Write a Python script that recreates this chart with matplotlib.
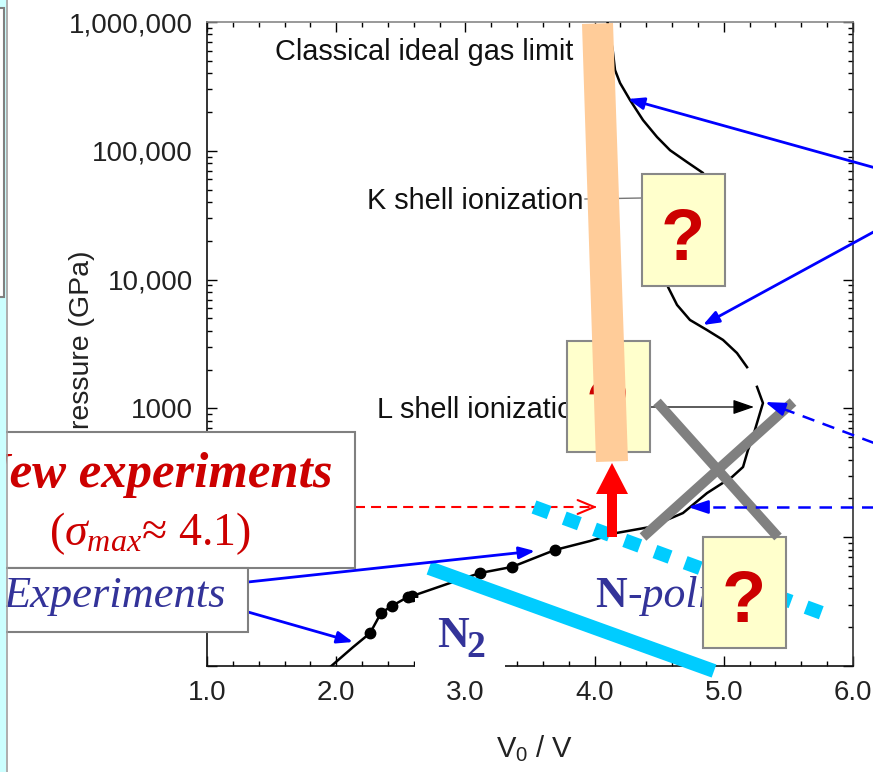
import matplotlib
matplotlib.use('Agg')
import matplotlib.pyplot as plt
from matplotlib import transforms as mtransforms
from matplotlib.patches import Rectangle, Polygon, FancyArrowPatch
from matplotlib.lines import Line2D
from matplotlib.ticker import FixedLocator, FixedFormatter, MultipleLocator, LogLocator, NullFormatter

W, H = 873, 772

plt.rcParams['font.family'] = ['Liberation Sans', 'DejaVu Sans']
plt.rcParams['mathtext.fontset'] = 'custom'
plt.rcParams['mathtext.rm'] = 'Liberation Serif'
plt.rcParams['mathtext.it'] = 'Liberation Serif:italic'
plt.rcParams['mathtext.bf'] = 'Liberation Serif:bold'

# ---------------- data ----------------
# Hugoniot curve: compression V0/V vs pressure (GPa); None = gap in the drawn curve
hug_v = [1.952, 2.130, 2.262, 2.347, 2.432, 2.556, 2.587, 2.881, 3.113, 3.361, 3.693,
         3.964, 4.173, 4.429, 4.684, 4.870, 5.063, 5.149, 5.187, 5.218, 5.257, 5.303,
         5.257, None, 5.180, 5.102, 4.994, 4.870, 4.738, 4.638, 4.568, 4.660, 4.816,
         4.930, 4.839, 4.715, 4.584, 4.483, 4.375, 4.274, 4.197, 4.158, 4.140, 4.100]
hug_p = [9.8, 14.0, 18.0, 25.8, 29.3, 34.4, 34.9, 44.1, 52.7, 58.8, 79.6,
         93.4, 108, 120, 154, 220, 293, 351, 475, 569, 771, 1100,
         1470, None, 2090, 2690, 3400, 4060, 4860, 6360, 8770, 10900, 17000,
         41500, 67300, 81800, 101000, 128000, 173000, 248000, 336000, 424000, 606000, 1000000]

# experimental points
exp_v = [2.262, 2.347, 2.432, 2.556, 2.587, 3.113, 3.361, 3.693]
exp_p = [18.0, 25.8, 29.3, 34.4, 34.9, 52.7, 58.8, 79.6]

x_ticks = [1, 2, 3, 4, 5, 6]
x_ticklabels = ['1.0', '2.0', '3.0', '4.0', '5.0', '6.0']
y_ticks = [10, 100, 1000, 10000, 100000, 1000000]
y_ticklabels = ['', '100', '1000', '10,000', '100,000', '1,000,000']

# ---------------- figure ----------------
fig = plt.figure(figsize=(W / 100, H / 100), dpi=100)
fig.patch.set_facecolor('white')
ax = fig.add_axes([207 / W, (H - 666) / H, 646 / W, 644 / H])
ax.set_yscale('log')
ax.set_xlim(1, 6)
ax.set_ylim(10, 1e6)

hv = [float('nan') if v is None else v for v in hug_v]
hp = [float('nan') if p is None else p for p in hug_p]
ax.plot(hv, hp, color='black', lw=1.8, zorder=3)
ax.plot(exp_v, exp_p, 'o', color='black', ms=7.5, zorder=4)

ax.xaxis.set_major_locator(FixedLocator(x_ticks))
ax.xaxis.set_major_formatter(FixedFormatter(x_ticklabels))
ax.xaxis.set_minor_locator(MultipleLocator(0.2))
ax.yaxis.set_major_locator(FixedLocator(y_ticks))
ax.yaxis.set_major_formatter(FixedFormatter(y_ticklabels))
ax.yaxis.set_minor_locator(LogLocator(base=10, subs=[2, 3, 4, 5, 6, 7, 8, 9]))
ax.yaxis.set_minor_formatter(NullFormatter())
ax.tick_params(which='both', direction='in', top=True, right=True, width=1,
               labelsize=20, labelcolor='#222222', pad=10)
ax.tick_params(which='major', length=7)
ax.tick_params(which='minor', length=3.5)
for s in ['left', 'bottom']:
    ax.spines[s].set_color('#111111')
ax.spines['top'].set_color('#888888')
ax.spines['right'].set_color('#333333')
for s in ax.spines.values():
    s.set_linewidth(1.2)

ax.set_ylabel('Pressure (GPa)', fontsize=20.5, color='#222222')
ax.yaxis.label.set_va('center')
ax.yaxis.set_label_coords((82 - 207) / 646, (666 - 349) / 644)
ax.set_xlabel('V$_\\mathregular{0}$ / V', fontsize=21, color='#222222')
ax.xaxis.set_label_coords((535 - 207) / 646, (666 - 734) / 644)

ax.text(1.53, 10 ** 5.705, 'Classical ideal gas limit', fontsize=20.8, color='#111111',
        va='baseline', ha='left', zorder=5)
ax.text(2.238, 10 ** 4.548, 'K shell ionization', fontsize=20.8, color='#111111',
        va='baseline', ha='left', zorder=5)
ax.text(2.316, 10 ** 2.925, 'L shell ionization', fontsize=20.8, color='#111111',
        va='baseline', ha='left', zorder=5)

# ---------------- overlay (pixel coordinates, origin top-left) ----------------
pix = mtransforms.Affine2D().scale(1 / W, -1 / H).translate(0, 1) + fig.transFigure


def add(artist):
    fig.add_artist(artist)
    return artist


def rect(x0, y0, x1, y1, fc, ec='none', lw=0, z=5):
    add(Rectangle((x0, y0), x1 - x0, y1 - y0, transform=pix, fc=fc, ec=ec, lw=lw, zorder=z))


def line(p0, p1, color, lw, z, **kw):
    add(Line2D([p0[0], p1[0]], [p0[1], p1[1]], transform=pix, color=color, lw=lw, zorder=z, **kw))


def arrow(p0, p1, color, lw, z, style='-|>,head_length=0.95,head_width=0.36', ms=10):
    add(FancyArrowPatch(p0, p1, transform=pix, arrowstyle=style, mutation_scale=ms,
                        color=color, lw=lw, zorder=z, shrinkA=0, shrinkB=0))


def dashed_arrow(p0, p1, color, lw, z, dashes, style, hl=14):
    dx, dy = p1[0] - p0[0], p1[1] - p0[1]
    L = (dx ** 2 + dy ** 2) ** 0.5
    ux, uy = dx / L, dy / L
    pm = (p1[0] - ux * hl, p1[1] - uy * hl)
    add(Line2D([p0[0], pm[0]], [p0[1], pm[1]], transform=pix, color=color, lw=lw,
               zorder=z, dashes=dashes, dash_capstyle='butt'))
    add(FancyArrowPatch(pm, p1, transform=pix, arrowstyle=style, mutation_scale=10,
                        color=color, lw=lw, zorder=z, shrinkA=0, shrinkB=0))


# white patch behind the N2 label (covers part of the bottom axis)
rect(415, 598, 505, 669, 'white', z=5)

# phase lines
line((429, 568), (714, 671), '#00CCFF', 10, 6, solid_capstyle='butt')
add(Line2D([534, 822], [507, 613], transform=pix, color='#00CCFF', lw=10, zorder=6,
           dashes=(1.16, 1.16), dash_capstyle='butt'))

serif = ['Liberation Serif', 'DejaVu Serif']
blue_txt = '#333399'
red_txt = '#CC0000'
fig.text(437, 647, 'N', transform=pix, fontsize=31.5, fontweight='bold', family=serif,
         color=blue_txt, ha='left', va='baseline', zorder=7)
fig.text(466, 657, '2', transform=pix, fontsize=27, fontweight='bold', family=serif,
         color=blue_txt, ha='left', va='baseline', zorder=7)
fig.text(595, 607, 'N', transform=pix, fontsize=31.5, fontweight='bold', family=serif,
         color=blue_txt, ha='left', va='baseline', zorder=7)
fig.text(627, 607, '-polimer', transform=pix, fontsize=31.5, style='italic', family=serif,
         color=blue_txt, ha='left', va='baseline', zorder=7)

# connectors from the ionization labels
line((585, 199), (642, 198), '#777777', 1.0, 6)
arrow((650, 407), (754, 407), 'black', 0.9, 6, style='-|>,head_length=1.3,head_width=0.45')

# question-mark boxes
for (x0, y0, x1, y1, bx, by) in [(642, 174, 725, 286, 683, 260),
                                 (567, 341, 650, 452, 608, 430),
                                 (703, 537, 786, 648, 744, 622)]:
    rect(x0, y0, x1, y1, '#FFFFCC', ec='#888888', lw=1.5, z=8)
    fig.text(bx, by, '?', transform=pix, fontsize=52, fontweight='bold', color=red_txt,
             ha='center', va='baseline', zorder=8.5)

# gray X
line((657, 402), (778, 537), '#808080', 7.2, 9, solid_capstyle='butt')
line((793, 402), (643, 537), '#808080', 7.2, 9, solid_capstyle='butt')

# peach bar
add(Polygon([(582, 24), (613, 23), (628, 461), (596, 462)], closed=True, transform=pix,
            fc='#FFCC99', ec='none', zorder=10))

# red up arrow
add(Polygon([(607, 537), (617, 537), (617, 494), (628, 494), (612, 463), (596, 494), (607, 494)],
            closed=True, transform=pix, fc='#FF0000', ec='none', zorder=10))

# dashed arrows
dashed_arrow((355, 507), (597, 507), '#FF0000', 1.5, 5.5, (4.8, 2.9),
             '->,head_length=1.2,head_width=0.5', hl=4)
dashed_arrow((890, 507), (688, 507), '#0000FF', 1.8, 11, (5.0, 3.5),
             '-|>,head_length=1.2,head_width=0.4', hl=14)
dashed_arrow((890, 449), (765, 402), '#0000FF', 1.8, 11, (5.0, 3.5),
             '-|>,head_length=1.2,head_width=0.4', hl=14)

# solid blue arrows
arrow((890, 172), (628, 99), '#0000FF', 2.0, 12)
arrow((890, 223), (703, 325), '#0000FF', 2.0, 12)
arrow((248, 582), (535, 551), '#0000FF', 2.0, 12)
arrow((248, 612), (353, 642), '#0000FF', 2.0, 12)

# left text boxes
rect(-10, 432, 355, 568, 'white', ec='#808080', lw=1.5, z=13)
rect(-10, 568, 248, 632, 'white', ec='#808080', lw=1.5, z=13)
fig.text(333, 487, 'New experiments', transform=pix, fontsize=36.5, fontweight='bold',
         style='italic', family=serif, color=red_txt, ha='right', va='baseline', zorder=14)
fig.text(150, 545, '($\\sigma_{max}$\u2248 4.1)', transform=pix, fontsize=33, family=serif,
         color=red_txt, ha='center', va='baseline', zorder=14)
fig.text(226, 607, 'Experiments', transform=pix, fontsize=32, style='italic', family=serif,
         color=blue_txt, ha='right', va='baseline', zorder=14)

# left edge strip
rect(0, 0, 6, H, '#CCFFFF', z=15)
line((6.5, 0), (6.5, H), '#A0A0A0', 1.2, 15.5)
rect(-5, 8, 4, 297, 'white', ec='#808080', lw=1.5, z=15.7)

fig.savefig('out.png', dpi=100, facecolor='white')
